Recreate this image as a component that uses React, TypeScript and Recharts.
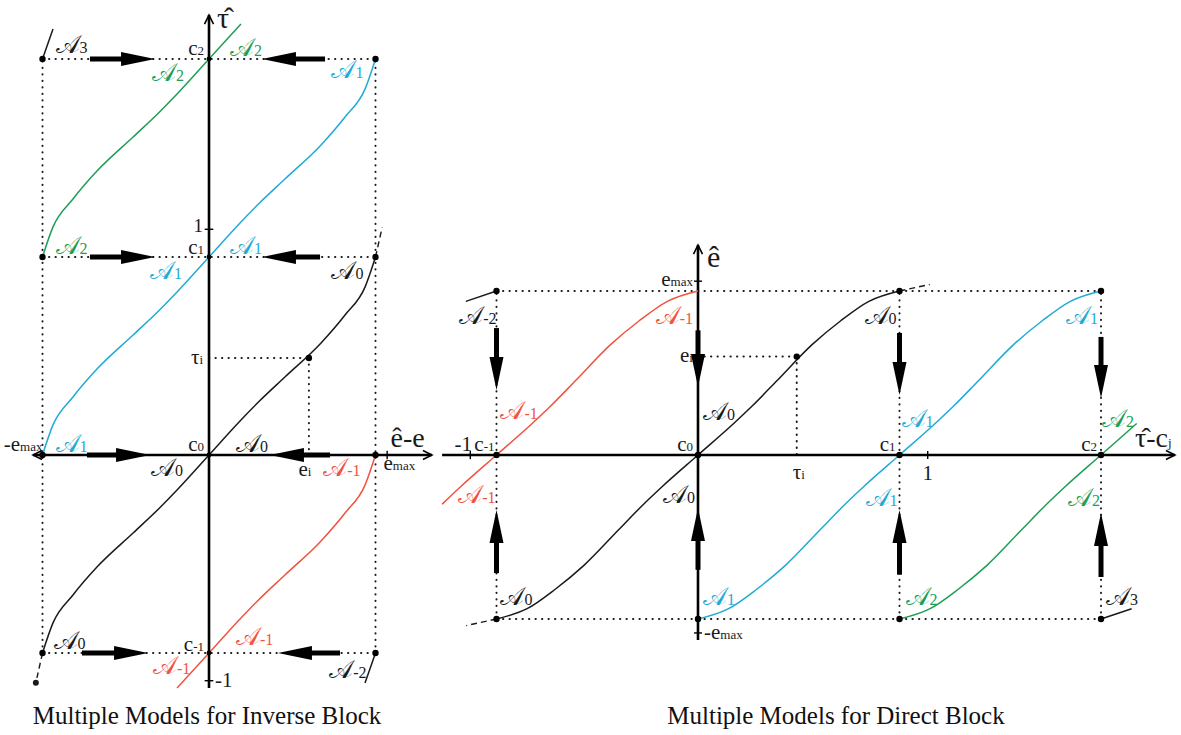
import React from "react";
import { ComposedChart, Line, XAxis, YAxis, ReferenceLine, ReferenceDot } from "recharts";

// base model curve (A0 of the inverse block)
const BASE_X = [-1, -0.937, -0.817, -0.673, -0.456, -0.3, -0.192, 0, 0.192, 0.3, 0.456, 0.673, 0.817, 0.937, 1];
const BASE_Y = [-1, -0.848, -0.707, -0.566, -0.394, -0.27, -0.177, 0, 0.177, 0.27, 0.394, 0.566, 0.707, 0.848, 1];
// dashed continuation past the saturation point
const TAIL_X = [1, 1.04];
const TAIL_Y = [1, 1.15];

// models A-2 .. A3 (offset c_j) and the visible part of each one
const MODELS = [-2, -1, 0, 1, 2, 3];
const SPAN_INV = [[0.937, 1], [-0.192, 1], [-1, 1], [-1, 1], [-1, 0.192], [-1, -0.937]];
const SPAN_DIR = [[0.937, 1], [-0.3, 1], [-1, 1], [-1, 1], [-1, 0.192], [-1, -0.937]];
const RED = "#f0533f";
const BLUE = "#1fabd5";
const GREEN = "#1d9e56";
const INK = "#1a1a1a";
const MODEL_COLOR = [INK, RED, INK, BLUE, GREEN, INK];

const C_LEVELS = [-1, 0, 1, 2];
const TAU_I = 0.49;
const E_I = 0.6;

// switching arrows
const INV_ROW = [2, 1, 0, -1];
const INV_R_FROM = [-0.715, -0.715, -0.733, -0.763];
const INV_R_TO = [-0.324, -0.324, -0.354, -0.366];
const INV_L_FROM = [0.697, 0.667, 0.727, 0.787];
const INV_L_TO = [0.318, 0.318, 0.366, 0.414];

const DIR_COL = [-1, 0, 1, 2];
const DIR_D_FROM = [0.774, 0.76, 0.744, 0.72];
const DIR_D_TO = [0.396, 0.415, 0.366, 0.348];
const DIR_U_FROM = [-0.72, -0.7, -0.73, -0.744];
const DIR_U_TO = [-0.335, -0.323, -0.335, -0.354];

const FONT = "'Times New Roman', 'Liberation Serif', Times, serif";
const SCRIPT = "'DejaVu Serif', 'DejaVu Sans', serif";

type Tag = { t: string; s?: string; c?: string; x: number; y: number; dx: number; dy: number; a?: "start" | "end" | "middle"; f?: number; script?: boolean };

const A = "\u{1D49C}";

const INV_TAGS: Tag[] = [
  { t: A, s: "3", x: -1, y: 2, dx: 13, dy: -6, script: true },
  { t: "c", s: "2", x: 0, y: 2, dx: -5, dy: -4, a: "end" },
  { t: A, s: "2", c: GREEN, x: 0, y: 2, dx: 21, dy: -3, script: true },
  { t: A, s: "2", c: GREEN, x: 0, y: 2, dx: -57, dy: 22, script: true },
  { t: A, s: "1", c: BLUE, x: 1, y: 2, dx: -12, dy: 19, a: "end", script: true },
  { t: "1", x: 0, y: 1.14, dx: -6, dy: 3, a: "end", f: 19 },
  { t: A, s: "2", c: GREEN, x: -1, y: 1, dx: 13, dy: -3, script: true },
  { t: "c", s: "1", x: 0, y: 1, dx: -5, dy: -3, a: "end" },
  { t: A, s: "1", c: BLUE, x: 0, y: 1, dx: 21, dy: -3, script: true },
  { t: A, s: "1", c: BLUE, x: 0, y: 1, dx: -59, dy: 22, script: true },
  { t: A, s: "0", x: 1, y: 1, dx: -12, dy: 22, a: "end", script: true },
  { t: "\u03C4", s: "i", x: 0, y: TAU_I, dx: -6, dy: 6, a: "end" },
  { t: "-e", s: "max", x: -1, y: 0, dx: 0, dy: -4, a: "end" },
  { t: A, s: "1", c: BLUE, x: -1, y: 0, dx: 13, dy: -3, script: true },
  { t: "c", s: "0", x: 0, y: 0, dx: -5, dy: -4, a: "end" },
  { t: A, s: "0", x: 0, y: 0, dx: 27, dy: -3, script: true },
  { t: "\u00EA-e", x: 1, y: 0, dx: 15, dy: -8, f: 28 },
  { t: "e", s: "i", x: E_I, y: 0, dx: -4, dy: 21, a: "middle" },
  { t: "e", s: "max", x: 1, y: 0, dx: 8, dy: 15 },
  { t: A, s: "0", x: 0, y: 0, dx: -58, dy: 21, script: true },
  { t: A, s: "-1", c: RED, x: 1, y: 0, dx: -15, dy: 21, a: "end", script: true },
  { t: A, s: "0", x: -1, y: -1, dx: 11, dy: -4, script: true },
  { t: "c", s: "-1", x: 0, y: -1, dx: -5, dy: -2, a: "end" },
  { t: A, s: "-1", c: RED, x: 0, y: -1, dx: 27, dy: -8, script: true },
  { t: A, s: "-1", c: RED, x: 0, y: -1, dx: -56, dy: 21, script: true },
  { t: A, s: "-2", x: 1, y: -1, dx: -9, dy: 25, a: "end", script: true },
  { t: "-1", x: 0, y: -1.14, dx: 6, dy: 6 },
  { t: "\u03C4\u0302", x: 0, y: 2.22, dx: 8, dy: 13, f: 30 },
];

const DIR_TAGS: Tag[] = [
  { t: "\u00EA", x: 0, y: 1.28, dx: 9, dy: 22, f: 30 },
  { t: "e", s: "max", x: 0, y: 1.06, dx: -5, dy: 5, a: "end" },
  { t: A, s: "-2", x: -1, y: 1, dx: 0, dy: 33, a: "end", script: true },
  { t: A, s: "-1", c: RED, x: 0, y: 1, dx: -5, dy: 33, a: "end", script: true },
  { t: "e", s: "i", x: 0, y: E_I, dx: -5, dy: 5, a: "end" },
  { t: A, s: "-1", c: RED, x: -1, y: 0, dx: 4, dy: -36, script: true },
  { t: A, s: "0", x: 0, y: 0, dx: 5, dy: -35, script: true },
  { t: "-1", x: -1.13, y: 0, dx: -7, dy: -4, a: "middle" },
  { t: "c", s: "-1", x: -1, y: 0, dx: -2, dy: -4, a: "end" },
  { t: "c", s: "0", x: 0, y: 0, dx: -5, dy: -4, a: "end" },
  { t: "\u03C4", s: "i", x: TAU_I, y: 0, dx: 2, dy: 24, a: "middle" },
  { t: A, s: "0", x: 1, y: 1, dx: -3, dy: 33, a: "end", script: true },
  { t: A, s: "1", c: BLUE, x: 2, y: 1, dx: -3, dy: 33, a: "end", script: true },
  { t: A, s: "1", c: BLUE, x: 1, y: 0, dx: 2, dy: -28, script: true },
  { t: A, s: "2", c: GREEN, x: 2, y: 0, dx: 1, dy: -28, script: true },
  { t: "c", s: "1", x: 1, y: 0, dx: -4, dy: -4, a: "end" },
  { t: "c", s: "2", x: 2, y: 0, dx: -4, dy: -4, a: "end" },
  { t: "1", x: 1.14, y: 0, dx: 0, dy: 25, a: "middle" },
  { t: "\u03C4\u0302-c", s: "j", x: 2, y: 0, dx: 34, dy: -8, f: 28 },
  { t: A, s: "-1", c: RED, x: -1, y: 0, dx: -1, dy: 48, a: "end", script: true },
  { t: A, s: "0", x: 0, y: 0, dx: -3, dy: 48, a: "end", script: true },
  { t: A, s: "1", c: BLUE, x: 1, y: 0, dx: -2, dy: 51, a: "end", script: true },
  { t: A, s: "2", c: GREEN, x: 2, y: 0, dx: -1, dy: 51, a: "end", script: true },
  { t: A, s: "0", x: -1, y: -1, dx: 4, dy: -14, script: true },
  { t: A, s: "1", c: BLUE, x: 0, y: -1, dx: 5, dy: -14, script: true },
  { t: A, s: "2", c: GREEN, x: 1, y: -1, dx: 6, dy: -14, script: true },
  { t: A, s: "3", x: 2, y: -1, dx: 5, dy: -14, script: true },
  { t: "-e", s: "max", x: 0, y: -1.085, dx: 6, dy: 6 },
];

const base = BASE_X.map((x, i) => ({ bx: x, by: BASE_Y[i] }));

const inverseCurve = (k: number) => {
  const [lo, hi] = SPAN_INV[k];
  return base.filter((p) => p.bx >= lo && p.bx <= hi).map((p) => ({ x: p.bx, y: p.by + MODELS[k] }));
};
const directCurve = (k: number) => {
  const [lo, hi] = SPAN_DIR[k];
  return base.filter((p) => p.bx >= lo && p.bx <= hi).map((p) => ({ x: p.by + MODELS[k], y: p.bx }));
};

const dotted = { stroke: INK, strokeWidth: 2, strokeDasharray: "0.3 6.2", strokeLinecap: "round" as const, ifOverflow: "visible" as const };

const tagShape = (g: Tag) => (p: any) => {
  const size = g.f ?? (g.script ? 25 : 21);
  return (
    <text x={p.cx + g.dx} y={p.cy + g.dy} fill={g.c ?? INK} fontSize={size} textAnchor={g.a ?? "start"} fontFamily={g.script ? SCRIPT : FONT}>
      {g.t}
      {g.s && (
        <tspan fontSize={g.script ? 16 : 13} fontFamily={FONT}>
          {g.s}
        </tspan>
      )}
    </text>
  );
};

const renderTags = (tags: Tag[], key: string) =>
  tags.map((g, i) => <ReferenceDot key={`${key}${i}`} x={g.x} y={g.y} r={0} ifOverflow="visible" shape={tagShape(g)} />);

const head = (dir: "l" | "r" | "u" | "d", len: number, half: number) => (p: any) => {
  const { cx, cy } = p;
  let pts = "";
  if (dir === "r") pts = `${cx},${cy} ${cx - len},${cy - half} ${cx - len},${cy + half}`;
  if (dir === "l") pts = `${cx},${cy} ${cx + len},${cy - half} ${cx + len},${cy + half}`;
  if (dir === "d") pts = `${cx},${cy} ${cx - half},${cy - len} ${cx + half},${cy - len}`;
  if (dir === "u") pts = `${cx},${cy} ${cx - half},${cy + len} ${cx + half},${cy + len}`;
  return <polygon points={pts} fill="#000" />;
};

const chevron = (dir: "l" | "r" | "u" | "d") => (p: any) => {
  const { cx, cy } = p;
  const s = 9;
  const w = 4.5;
  let pts = "";
  if (dir === "r") pts = `${cx - s},${cy - w} ${cx},${cy} ${cx - s},${cy + w}`;
  if (dir === "l") pts = `${cx + s},${cy - w} ${cx},${cy} ${cx + s},${cy + w}`;
  if (dir === "u") pts = `${cx - w},${cy + s} ${cx},${cy} ${cx + w},${cy + s}`;
  if (dir === "d") pts = `${cx - w},${cy - s} ${cx},${cy} ${cx + w},${cy - s}`;
  return <polyline points={pts} fill="none" stroke="#000" strokeWidth={1.6} />;
};

const blackDot = (p: any) => <circle cx={p.cx} cy={p.cy} r={3.2} fill="#000" />;

const HEAD = 0.16;

function InverseBlock() {
  return (
    <ComposedChart width={440} height={700} margin={{ top: 0, right: 0, bottom: 0, left: 0 }}>
      <XAxis type="number" dataKey="x" domain={[-1.2553, 1.3874]} hide allowDataOverflow />
      <YAxis type="number" dataKey="y" domain={[-1.2374, 2.298]} hide allowDataOverflow />
      {/* guide lines */}
      {[2, 1, -1].map((c) => (
        <ReferenceLine key={`h${c}`} segment={[{ x: -1, y: c }, { x: 1, y: c }]} {...dotted} />
      ))}
      {[-1, 1].map((e) => (
        <ReferenceLine key={`v${e}`} segment={[{ x: e, y: -1 }, { x: e, y: 2 }]} {...dotted} />
      ))}
      <ReferenceLine segment={[{ x: 0, y: TAU_I }, { x: E_I, y: TAU_I }]} {...dotted} />
      <ReferenceLine segment={[{ x: E_I, y: TAU_I }, { x: E_I, y: 0 }]} {...dotted} />
      {/* axes */}
      <ReferenceLine segment={[{ x: -1.057, y: 0 }, { x: 1.339, y: 0 }]} stroke="#000" strokeWidth={2.4} ifOverflow="visible" />
      <ReferenceLine segment={[{ x: 0, y: -1.177 }, { x: 0, y: 2.222 }]} stroke="#000" strokeWidth={2.6} ifOverflow="visible" />
      <ReferenceDot x={1.339} y={0} r={0} ifOverflow="visible" shape={chevron("r")} />
      <ReferenceDot x={-1.057} y={0} r={0} ifOverflow="visible" shape={chevron("l")} />
      <ReferenceDot x={0} y={2.222} r={0} ifOverflow="visible" shape={chevron("u")} />
      {[1.14, -1.14].map((t) => (
        <ReferenceLine key={`t${t}`} segment={[{ x: -0.026, y: t }, { x: 0.026, y: t }]} stroke="#000" strokeWidth={1.4} />
      ))}
      <ReferenceLine segment={[{ x: 1.07, y: -0.022 }, { x: 1.07, y: 0.022 }]} stroke="#000" strokeWidth={1.4} />
      {/* models */}
      {MODELS.map((m, k) => (
        <Line key={`m${m}`} data={inverseCurve(k)} dataKey="y" type="monotone" stroke={MODEL_COLOR[k]} strokeWidth={1.5} dot={false} isAnimationActive={false} />
      ))}
      <Line data={TAIL_X.map((x, i) => ({ x, y: TAIL_Y[i] }))} dataKey="y" stroke={INK} strokeWidth={1.4} strokeDasharray="6 4" dot={false} isAnimationActive={false} />
      <Line data={TAIL_X.map((x, i) => ({ x: -x, y: -TAIL_Y[i] }))} dataKey="y" stroke={INK} strokeWidth={1.4} strokeDasharray="6 4" dot={false} isAnimationActive={false} />
      {/* switching arrows */}
      {INV_ROW.map((r, i) => (
        <ReferenceLine key={`ar${i}`} segment={[{ x: INV_R_FROM[i], y: r }, { x: INV_R_TO[i] - HEAD, y: r }]} stroke="#000" strokeWidth={5} />
      ))}
      {INV_ROW.map((r, i) => (
        <ReferenceDot key={`hr${i}`} x={INV_R_TO[i]} y={r} r={0} shape={head("r", 34, 7)} />
      ))}
      {INV_ROW.map((r, i) => (
        <ReferenceLine key={`al${i}`} segment={[{ x: INV_L_FROM[i], y: r }, { x: INV_L_TO[i] + HEAD, y: r }]} stroke="#000" strokeWidth={5} />
      ))}
      {INV_ROW.map((r, i) => (
        <ReferenceDot key={`hl${i}`} x={INV_L_TO[i]} y={r} r={0} shape={head("l", 34, 7)} />
      ))}
      {/* points */}
      {[2, 1, 0, -1].flatMap((c) => [-1, 1].map((e) => <ReferenceDot key={`d${c}${e}`} x={e} y={c} r={3} shape={blackDot} />))}
      {C_LEVELS.map((c) => (
        <ReferenceDot key={`c${c}`} x={0} y={c} r={2} shape={(p: any) => <circle cx={p.cx} cy={p.cy} r={2.4} fill="#000" />} />
      ))}
      <ReferenceDot x={E_I} y={TAU_I} r={3} shape={blackDot} />
      {renderTags(INV_TAGS, "it")}
    </ComposedChart>
  );
}

function DirectBlock() {
  return (
    <ComposedChart width={751} height={430} margin={{ top: 0, right: 0, bottom: 0, left: 0 }}>
      <XAxis type="number" dataKey="x" domain={[-1.33, 2.397]} hide allowDataOverflow />
      <YAxis type="number" dataKey="y" domain={[-1.25, 1.372]} hide allowDataOverflow />
      {[1, -1].map((e) => (
        <ReferenceLine key={`h${e}`} segment={[{ x: -1, y: e }, { x: 2, y: e }]} {...dotted} />
      ))}
      {[-1, 1, 2].map((c) => (
        <ReferenceLine key={`v${c}`} segment={[{ x: c, y: -1 }, { x: c, y: 1 }]} {...dotted} />
      ))}
      <ReferenceLine segment={[{ x: 0, y: E_I }, { x: TAU_I, y: E_I }]} {...dotted} />
      <ReferenceLine segment={[{ x: TAU_I, y: E_I }, { x: TAU_I, y: 0 }]} {...dotted} />
      {/* axes */}
      <ReferenceLine segment={[{ x: -1.27, y: 0 }, { x: 2.367, y: 0 }]} stroke="#000" strokeWidth={2.4} ifOverflow="visible" />
      <ReferenceLine segment={[{ x: 0, y: -1.128 }, { x: 0, y: 1.28 }]} stroke="#000" strokeWidth={2.6} ifOverflow="visible" />
      <ReferenceDot x={2.367} y={0} r={0} ifOverflow="visible" shape={chevron("r")} />
      <ReferenceDot x={0} y={1.28} r={0} ifOverflow="visible" shape={chevron("u")} />
      {[-1.13, 1.14].map((t) => (
        <ReferenceLine key={`t${t}`} segment={[{ x: t, y: -0.025 }, { x: t, y: 0.025 }]} stroke="#000" strokeWidth={1.4} />
      ))}
      {[1.06, -1.085].map((t) => (
        <ReferenceLine key={`u${t}`} segment={[{ x: -0.02, y: t }, { x: 0.02, y: t }]} stroke="#000" strokeWidth={1.4} />
      ))}
      {MODELS.map((m, k) => (
        <Line key={`m${m}`} data={directCurve(k)} dataKey="y" type="monotone" stroke={MODEL_COLOR[k]} strokeWidth={1.5} dot={false} isAnimationActive={false} />
      ))}
      <Line data={TAIL_X.map((x, i) => ({ x: TAIL_Y[i], y: x }))} dataKey="y" stroke={INK} strokeWidth={1.4} strokeDasharray="6 4" dot={false} isAnimationActive={false} />
      <Line data={TAIL_X.map((x, i) => ({ x: -TAIL_Y[i], y: -x }))} dataKey="y" stroke={INK} strokeWidth={1.4} strokeDasharray="6 4" dot={false} isAnimationActive={false} />
      {DIR_COL.map((c, i) => (
        <ReferenceLine key={`ad${i}`} segment={[{ x: c, y: DIR_D_FROM[i] }, { x: c, y: DIR_D_TO[i] + HEAD }]} stroke="#000" strokeWidth={5} />
      ))}
      {DIR_COL.map((c, i) => (
        <ReferenceDot key={`hd${i}`} x={c} y={DIR_D_TO[i]} r={0} shape={head("d", 33, 7)} />
      ))}
      {DIR_COL.map((c, i) => (
        <ReferenceLine key={`au${i}`} segment={[{ x: c, y: DIR_U_FROM[i] }, { x: c, y: DIR_U_TO[i] - HEAD }]} stroke="#000" strokeWidth={5} />
      ))}
      {DIR_COL.map((c, i) => (
        <ReferenceDot key={`hu${i}`} x={c} y={DIR_U_TO[i]} r={0} shape={head("u", 33, 7)} />
      ))}
      {[1, -1].flatMap((e) => [-1, 1, 2].map((c) => <ReferenceDot key={`d${c}${e}`} x={c} y={e} r={3} shape={blackDot} />))}
      {C_LEVELS.map((c) => (
        <ReferenceDot key={`c${c}`} x={c} y={0} r={3} shape={blackDot} />
      ))}
      <ReferenceDot x={0} y={-1} r={3} shape={blackDot} />
      <ReferenceDot x={TAU_I} y={E_I} r={3} shape={blackDot} />
      {renderTags(DIR_TAGS, "dt")}
    </ComposedChart>
  );
}

const caption: React.CSSProperties = { position: "absolute", top: 702, fontFamily: FONT, fontSize: 25, color: "#111", textAlign: "center" };

export default function App() {
  return (
    <div style={{ position: "absolute", left: 0, top: 0, width: 1181, height: 735, background: "#fff", overflow: "hidden" }}>
      <div style={{ position: "absolute", left: 0, top: 0 }}>
        <InverseBlock />
      </div>
      <div style={{ position: "absolute", left: 430, top: 230 }}>
        <DirectBlock />
      </div>
      <div style={{ ...caption, left: 0, width: 414 }}>Multiple Models for Inverse Block</div>
      <div style={{ ...caption, left: 640, width: 392 }}>Multiple Models for Direct Block</div>
    </div>
  );
}
